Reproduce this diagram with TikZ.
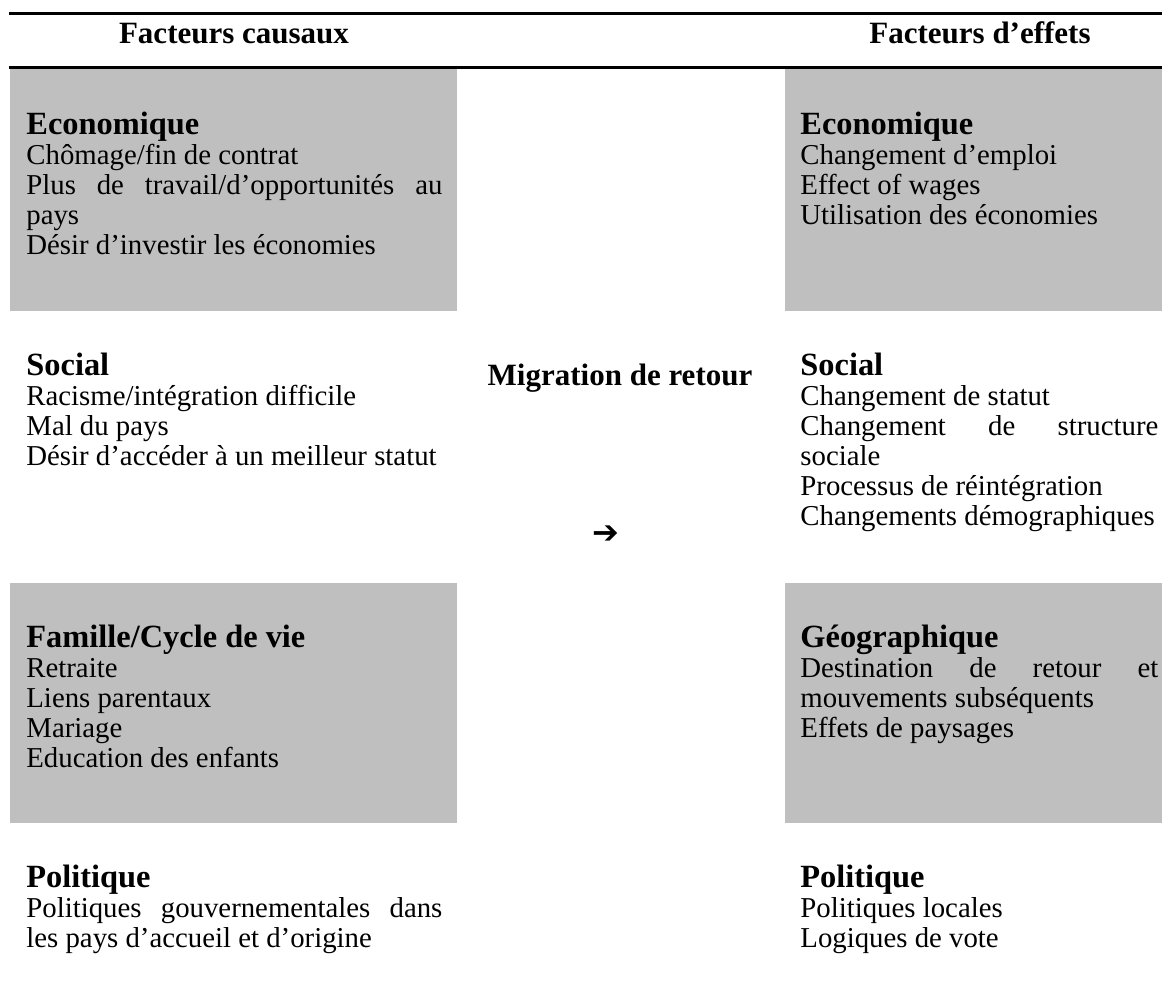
\documentclass[tikz,border=0pt]{standalone}
\usepackage{fontspec}
\setmainfont{Liberation Serif}
\newfontfamily\arrowfont{DejaVu Sans}
\definecolor{cellgray}{RGB}{191,191,191}
\newcommand{\cat}[1]{{\fontsize{16.2}{15}\selectfont\bfseries #1}}
\tikzset{
  body/.style={anchor=base west, inner sep=0pt, align=justify,
    font=\fontsize{14.4}{15}\selectfont},
  leftcol/.style={body, text width=208pt},
  rightcol/.style={body, text width=179pt},
  title/.style={anchor=base, inner sep=0pt,
    font=\fontsize{15.5}{15}\selectfont\bfseries},
  rule/.style={line width=1.5pt},
}
\begin{document}
\begin{tikzpicture}[x=0.5pt,y=-0.5pt]
  \useasboundingbox (0,0) rectangle (1162,991);
  \coordinate (r1a) at (9,13);
  \coordinate (r1b) at (1162,13);
  \coordinate (r2a) at (9,67);
  \coordinate (r2b) at (1162,67);
  \draw[rule] (r1a) -- (r1b);
  \draw[rule] (r2a) -- (r2b);
  \fill[cellgray] (10,69) rectangle (457,311);
  \fill[cellgray] (785,69) rectangle (1162,311);
  \fill[cellgray] (10,583) rectangle (457,823);
  \fill[cellgray] (785,583) rectangle (1162,823);
  \node[title] (causal) at (234,43) {Facteurs causaux};
  \node[title] (effet) at (980,43) {Facteurs d’effets};
  \node[leftcol] (econL) at (26,134) {\cat{Economique}\\Chômage/fin de contrat\\Plus de travail/d’opportunités au\linebreak pays\\Désir d’investir les économies};
  \node[leftcol] (socL) at (26,375) {\cat{Social}\\Racisme/intégration difficile\\Mal du pays\\Désir d’accéder à un meilleur statut};
  \node[leftcol] (famL) at (26,647) {\cat{Famille/Cycle de vie}\\Retraite\\Liens parentaux\\Mariage\\Education des enfants};
  \node[leftcol] (polL) at (26,887) {\cat{Politique}\\Politiques gouvernementales dans\linebreak les pays d’accueil et d’origine};
  \node[title] (migr) at (620,385) {Migration de retour};
  \node[inner sep=0pt, font=\arrowfont\fontsize{16}{16}\selectfont] (arrow) at (606,535) {➔};
  \node[rightcol] (econR) at (800,134) {\cat{Economique}\\Changement d’emploi\\Effect of wages\\Utilisation des économies};
  \node[rightcol] (socR) at (800,375) {\cat{Social}\\Changement de statut\\Changement de structure\linebreak sociale\\Processus de réintégration\\Changements démographiques};
  \node[rightcol] (geoR) at (800,647) {\cat{Géographique}\\Destination de retour et\linebreak mouvements subséquents\\Effets de paysages};
  \node[rightcol] (polR) at (800,887) {\cat{Politique}\\Politiques locales\\Logiques de vote};
\end{tikzpicture}
\end{document}
